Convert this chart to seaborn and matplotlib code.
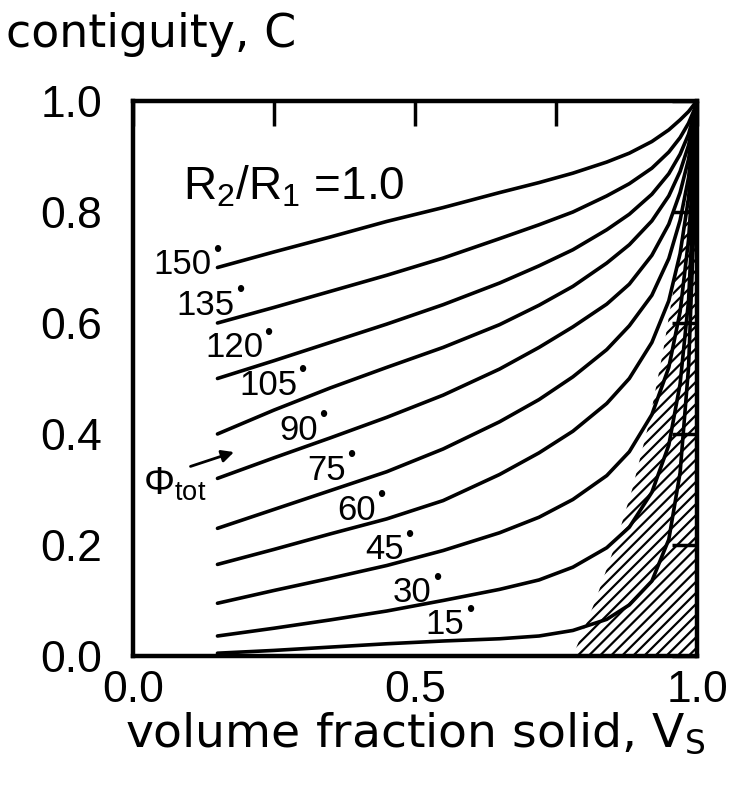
import matplotlib
matplotlib.use("Agg")
import matplotlib.pyplot as plt
import numpy as np
import pandas as pd
import seaborn as sns

vs = [0.15, 0.25, 0.35, 0.45, 0.55, 0.65, 0.72, 0.78, 0.84, 0.88, 0.92, 0.95, 0.97, 0.985, 0.995, 1.0]

# contiguity C for each total dihedral angle (R2/R1 = 1.0)
c150 = [0.700, 0.728, 0.755, 0.783, 0.808, 0.835, 0.853, 0.870, 0.890, 0.906, 0.927, 0.948, 0.966, 0.981, 0.994, 1.0]
c135 = [0.600, 0.628, 0.657, 0.686, 0.717, 0.752, 0.777, 0.800, 0.829, 0.851, 0.879, 0.908, 0.934, 0.960, 0.984, 1.0]
c120 = [0.500, 0.532, 0.565, 0.598, 0.633, 0.672, 0.703, 0.732, 0.768, 0.796, 0.832, 0.869, 0.904, 0.940, 0.976, 1.0]
c105 = [0.400, 0.443, 0.483, 0.520, 0.556, 0.597, 0.632, 0.666, 0.708, 0.741, 0.784, 0.829, 0.873, 0.920, 0.968, 1.0]
c90 = [0.320, 0.357, 0.393, 0.430, 0.470, 0.517, 0.556, 0.593, 0.634, 0.670, 0.722, 0.778, 0.835, 0.895, 0.958, 1.0]
c75 = [0.230, 0.264, 0.298, 0.332, 0.373, 0.422, 0.462, 0.503, 0.552, 0.595, 0.650, 0.716, 0.785, 0.862, 0.945, 1.0]
c60 = [0.165, 0.192, 0.220, 0.247, 0.280, 0.327, 0.366, 0.405, 0.455, 0.500, 0.565, 0.640, 0.725, 0.825, 0.930, 1.0]
c45 = [0.095, 0.118, 0.140, 0.163, 0.190, 0.222, 0.250, 0.282, 0.325, 0.368, 0.435, 0.520, 0.620, 0.750, 0.900, 1.0]
c30 = [0.036, 0.050, 0.065, 0.081, 0.100, 0.120, 0.137, 0.160, 0.195, 0.232, 0.295, 0.380, 0.490, 0.640, 0.850, 1.0]
c15 = [0.005, 0.010, 0.016, 0.022, 0.027, 0.031, 0.036, 0.046, 0.066, 0.092, 0.135, 0.210, 0.330, 0.520, 0.790, 1.0]

angles = [150, 135, 120, 105, 90, 75, 60, 45, 30, 15]
curves = [c150, c135, c120, c105, c90, c75, c60, c45, c30, c15]

# right edge and centre height of each angle label (data coords)
label_x = [0.139, 0.181, 0.231, 0.291, 0.328, 0.378, 0.430, 0.481, 0.529, 0.588]
label_y = [0.705, 0.632, 0.555, 0.488, 0.407, 0.335, 0.263, 0.191, 0.114, 0.056]

# left edge of the hatched region
hatch_y = [0.0, 0.1, 0.2, 0.3, 0.42, 0.55, 0.70, 0.85, 1.0]
hatch_x = [0.78, 0.82, 0.855, 0.885, 0.915, 0.94, 0.965, 0.985, 1.0]

df = pd.DataFrame({
    "Vs": vs * len(angles),
    "C": sum(curves, []),
    "angle": np.repeat(angles, len(vs)),
})

sns.set_style("white")
plt.rcParams["font.family"] = ["Liberation Sans", "DejaVu Sans"]
plt.rcParams["mathtext.fontset"] = "custom"
plt.rcParams["mathtext.rm"] = "Liberation Sans"
plt.rcParams["mathtext.it"] = "Liberation Sans"
plt.rcParams["hatch.linewidth"] = 1.6
for k in ["text.color", "axes.labelcolor", "xtick.color", "ytick.color", "axes.edgecolor"]:
    plt.rcParams[k] = "black"

fig = plt.figure(figsize=(7.34, 7.91), dpi=100)
ax = fig.add_axes([0.181, 0.1707, 0.7686, 0.7016])

ax.fill_betweenx(hatch_y, hatch_x, 1.0, facecolor="none", edgecolor="black",
                 hatch="///", linewidth=0)

sns.lineplot(data=df, x="Vs", y="C", units="angle", estimator=None, sort=False,
             color="black", linewidth=2.6, ax=ax, legend=False)

for a, lx, ly in zip(angles, label_x, label_y):
    ax.text(lx, ly, f"{a}", fontsize=25, ha="right", va="center")
    ax.annotate("\u2022", xy=(lx, ly), xytext=(1, 10), textcoords="offset points",
                fontsize=17, ha="left", va="center")

ax.text(0.089, 0.822, r"$\mathregular{R_2/R_1}$ =1.0", fontsize=33, ha="left", va="baseline")
ax.text(0.018, 0.29, r"$\mathregular{\Phi_{tot}}$", fontsize=28, ha="left", va="baseline")
ax.annotate("", xy=(0.184, 0.369), xytext=(0.0975, 0.34),
            arrowprops=dict(arrowstyle="-|>", color="black", lw=2, mutation_scale=18))

ax.set_xlim(0, 1)
ax.set_ylim(0, 1)
ax.set_xticks([0, 0.5, 1.0])
ax.set_xticks([0.25, 0.75], minor=True)
ax.set_xticklabels(["0.0", "0.5", "1.0"])
ax.set_yticks([0, 0.2, 0.4, 0.6, 0.8, 1.0])
ax.set_yticklabels(["0.0", "0.2", "0.4", "0.6", "0.8", "1.0"])
ax.tick_params(which="both", direction="in", top=True, right=True, length=18,
               width=2.5, labelsize=32, pad=10, color="black")
ax.tick_params(axis="y", pad=22)
for s in ax.spines.values():
    s.set_linewidth(3.2)

ax.set_xlabel(r"volume fraction solid, $\mathregular{V_S}$", fontsize=34,
              family="DejaVu Sans", labelpad=0)
ax.set_ylabel("")
fig.text(0.008, 0.94, "contiguity, C", fontsize=33, family="DejaVu Sans",
         ha="left", va="baseline")

fig.savefig("out.png", dpi=100, facecolor="white")
